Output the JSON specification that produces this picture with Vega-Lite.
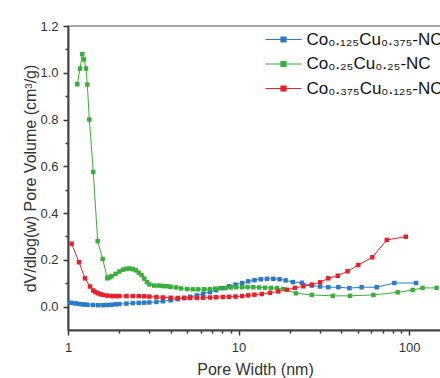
{
 "$schema": "https://vega.github.io/schema/vega-lite/v6.json",
 "width": 374,
 "height": 304,
 "autosize": {"type": "none"},
 "padding": {"left": 68, "top": 26, "right": 0, "bottom": 48},
 "background": "white",
 "config": {"view": {"stroke": "#888", "strokeWidth": 1.5}, "font": "Liberation Sans"},
 "data": {"values": [
  {"s":"B","x":1.0,"y":0.018},{"s":"B","x":1.05,"y":0.016},{"s":"B","x":1.1,"y":0.014},{"s":"B","x":1.15,"y":0.012},{"s":"B","x":1.2,"y":0.01},{"s":"B","x":1.25,"y":0.009},{"s":"B","x":1.3,"y":0.008},{"s":"B","x":1.4,"y":0.007},{"s":"B","x":1.5,"y":0.006},{"s":"B","x":1.6,"y":0.006},{"s":"B","x":1.7,"y":0.007},{"s":"B","x":1.8,"y":0.008},{"s":"B","x":1.9,"y":0.01},{"s":"B","x":2.0,"y":0.011},{"s":"B","x":2.2,"y":0.013},{"s":"B","x":2.4,"y":0.015},{"s":"B","x":2.6,"y":0.016},{"s":"B","x":2.8,"y":0.017},{"s":"B","x":3.0,"y":0.018},{"s":"B","x":3.3,"y":0.02},{"s":"B","x":3.6,"y":0.023},{"s":"B","x":4.0,"y":0.027},{"s":"B","x":4.4,"y":0.032},{"s":"B","x":4.8,"y":0.037},{"s":"B","x":5.2,"y":0.042},{"s":"B","x":5.7,"y":0.048},{"s":"B","x":6.2,"y":0.055},{"s":"B","x":6.8,"y":0.062},{"s":"B","x":7.4,"y":0.07},{"s":"B","x":8.1,"y":0.079},{"s":"B","x":8.8,"y":0.087},{"s":"B","x":9.6,"y":0.094},{"s":"B","x":10.5,"y":0.101},{"s":"B","x":11.4,"y":0.108},{"s":"B","x":12.4,"y":0.113},{"s":"B","x":13.5,"y":0.117},{"s":"B","x":14.7,"y":0.119},{"s":"B","x":16.0,"y":0.119},{"s":"B","x":17.4,"y":0.117},{"s":"B","x":18.9,"y":0.112},{"s":"B","x":20.8,"y":0.105},{"s":"B","x":23.5,"y":0.102},{"s":"B","x":26.9,"y":0.09},{"s":"B","x":30.1,"y":0.086},{"s":"B","x":33.6,"y":0.083},{"s":"B","x":38.5,"y":0.083},{"s":"B","x":44.7,"y":0.079},{"s":"B","x":52.7,"y":0.083},{"s":"B","x":64.6,"y":0.083},{"s":"B","x":82,"y":0.101},{"s":"B","x":110,"y":0.101},
  {"s":"G","x":1.134,"y":0.951},{"s":"G","x":1.176,"y":1.018},{"s":"G","x":1.213,"y":1.08},{"s":"G","x":1.241,"y":1.057},{"s":"G","x":1.275,"y":1.018},{"s":"G","x":1.298,"y":0.95},{"s":"G","x":1.334,"y":0.8},{"s":"G","x":1.407,"y":0.576},{"s":"G","x":1.493,"y":0.28},{"s":"G","x":1.598,"y":0.204},{"s":"G","x":1.699,"y":0.121},{"s":"G","x":1.75,"y":0.125},{"s":"G","x":1.8,"y":0.13},{"s":"G","x":1.9,"y":0.14},{"s":"G","x":2.0,"y":0.15},{"s":"G","x":2.1,"y":0.158},{"s":"G","x":2.2,"y":0.162},{"s":"G","x":2.3,"y":0.163},{"s":"G","x":2.4,"y":0.16},{"s":"G","x":2.5,"y":0.155},{"s":"G","x":2.6,"y":0.145},{"s":"G","x":2.7,"y":0.135},{"s":"G","x":2.8,"y":0.12},{"s":"G","x":2.9,"y":0.105},{"s":"G","x":3.0,"y":0.095},{"s":"G","x":3.2,"y":0.09},{"s":"G","x":3.4,"y":0.09},{"s":"G","x":3.6,"y":0.088},{"s":"G","x":3.8,"y":0.087},{"s":"G","x":4.0,"y":0.085},{"s":"G","x":4.3,"y":0.082},{"s":"G","x":4.6,"y":0.078},{"s":"G","x":5.0,"y":0.075},{"s":"G","x":5.4,"y":0.074},{"s":"G","x":5.8,"y":0.074},{"s":"G","x":6.3,"y":0.074},{"s":"G","x":6.8,"y":0.075},{"s":"G","x":7.3,"y":0.077},{"s":"G","x":7.8,"y":0.079},{"s":"G","x":8.4,"y":0.08},{"s":"G","x":9.0,"y":0.082},{"s":"G","x":9.7,"y":0.083},{"s":"G","x":10.5,"y":0.083},{"s":"G","x":11.3,"y":0.083},{"s":"G","x":12.2,"y":0.083},{"s":"G","x":13.2,"y":0.082},{"s":"G","x":14.3,"y":0.081},{"s":"G","x":15.5,"y":0.08},{"s":"G","x":16.8,"y":0.079},{"s":"G","x":18.3,"y":0.075},{"s":"G","x":21.7,"y":0.057},{"s":"G","x":26.9,"y":0.05},{"s":"G","x":35.7,"y":0.046},{"s":"G","x":45.1,"y":0.046},{"s":"G","x":61.8,"y":0.05},{"s":"G","x":85.8,"y":0.061},{"s":"G","x":105,"y":0.071},{"s":"G","x":120,"y":0.08},{"s":"G","x":145,"y":0.08},
  {"s":"R","x":1.05,"y":0.269},{"s":"R","x":1.16,"y":0.19},{"s":"R","x":1.258,"y":0.121},{"s":"R","x":1.346,"y":0.086},{"s":"R","x":1.407,"y":0.069},{"s":"R","x":1.45,"y":0.062},{"s":"R","x":1.5,"y":0.057},{"s":"R","x":1.55,"y":0.053},{"s":"R","x":1.6,"y":0.05},{"s":"R","x":1.7,"y":0.047},{"s":"R","x":1.8,"y":0.045},{"s":"R","x":1.9,"y":0.045},{"s":"R","x":2.0,"y":0.045},{"s":"R","x":2.2,"y":0.045},{"s":"R","x":2.4,"y":0.045},{"s":"R","x":2.6,"y":0.045},{"s":"R","x":2.8,"y":0.044},{"s":"R","x":3.0,"y":0.043},{"s":"R","x":3.3,"y":0.041},{"s":"R","x":3.6,"y":0.039},{"s":"R","x":4.0,"y":0.038},{"s":"R","x":4.4,"y":0.037},{"s":"R","x":4.8,"y":0.037},{"s":"R","x":5.2,"y":0.037},{"s":"R","x":5.7,"y":0.037},{"s":"R","x":6.2,"y":0.038},{"s":"R","x":6.8,"y":0.039},{"s":"R","x":7.4,"y":0.04},{"s":"R","x":8.1,"y":0.041},{"s":"R","x":8.8,"y":0.042},{"s":"R","x":9.6,"y":0.043},{"s":"R","x":10.5,"y":0.045},{"s":"R","x":11.4,"y":0.048},{"s":"R","x":12.4,"y":0.051},{"s":"R","x":13.7,"y":0.054},{"s":"R","x":15.3,"y":0.059},{"s":"R","x":17.1,"y":0.065},{"s":"R","x":19.2,"y":0.072},{"s":"R","x":21.4,"y":0.08},{"s":"R","x":24,"y":0.087},{"s":"R","x":26.9,"y":0.094},{"s":"R","x":30.1,"y":0.104},{"s":"R","x":33.6,"y":0.121},{"s":"R","x":38.2,"y":0.132},{"s":"R","x":43.6,"y":0.151},{"s":"R","x":50.4,"y":0.178},{"s":"R","x":60.9,"y":0.211},{"s":"R","x":74,"y":0.285},{"s":"R","x":95.7,"y":0.299}
 ]},
 "mark": {"type": "line", "strokeWidth": 1, "clip": true, "point": {"shape": "square", "filled": true, "size": 20}},
 "encoding": {
  "x": {"field": "x", "type": "quantitative",
   "scale": {"type": "log", "domain": [1, 156], "nice": false},
   "axis": {"title": "Pore Width (nm)", "titleFontSize": 16, "titleFontWeight": "normal", "titleColor": "#333", "titlePadding": 7,
    "values": [1,2,3,4,5,6,7,8,9,10,20,30,40,50,60,70,80,90,100],
    "labelExpr": "datum.value==1?'1':datum.value==10?'10':datum.value==100?'100':''",
    "labelFontSize": 13, "labelColor": "#333", "labelPadding": 6, "labelFlush": false,
    "tickSize": {"condition": {"test": "datum.value==1||datum.value==10||datum.value==100", "value": 5}, "value": 3},
    "tickColor": "#333", "tickWidth": 1.5, "domainColor": "#444", "domainWidth": 2, "grid": false}},
  "y": {"field": "y", "type": "quantitative",
   "scale": {"domain": [-0.1, 1.2], "nice": false, "zero": false},
   "axis": {"title": "dV/dlog(w) Pore Volume (cm³/g)", "titleFontSize": 16, "titleFontWeight": "normal", "titleColor": "#333", "titlePadding": 1,
    "values": [0,0.1,0.2,0.3,0.4,0.5,0.6,0.7,0.8,0.9,1.0,1.1,1.2],
    "format": ".1f",
    "labelExpr": "abs(datum.value*5-round(datum.value*5))<0.01 ? datum.label : ''",
    "labelFontSize": 13, "labelColor": "#333", "labelPadding": 5,
    "tickSize": {"condition": {"test": "abs(datum.value*5-round(datum.value*5))<0.01", "value": 5}, "value": 3},
    "tickColor": "#333", "tickWidth": 1.5, "domainColor": "#444", "domainWidth": 2, "grid": false}},
  "color": {"field": "s", "type": "nominal",
   "scale": {"domain": ["B", "G", "R"], "range": ["#2b7bc4", "#3aae3a", "#e8202a"]},
   "legend": {"title": null, "orient": "none", "legendX": 206, "legendY": 4,
    "labelExpr": "datum.label=='B'?'Co₀.₁₂₅Cu₀.₃₇₅-NC':datum.label=='G'?'Co₀.₂₅Cu₀.₂₅-NC':'Co₀.₃₇₅Cu₀.₁₂₅-NC'",
    "labelFontSize": 17, "labelColor": "#111", "labelOffset": 13.5, "labelLimit": 300,
    "symbolType": "M-2.08,0H2.08M-0.29,-0.29H0.29V0.29H-0.29Z", "symbolSize": 300, "symbolStrokeWidth": 1.2,
    "rowPadding": 6.5,
    "encode": {"symbols": {"update": {"fill": {"scale": "color", "field": "value"}, "stroke": {"scale": "color", "field": "value"}}}}}}
 }
}
